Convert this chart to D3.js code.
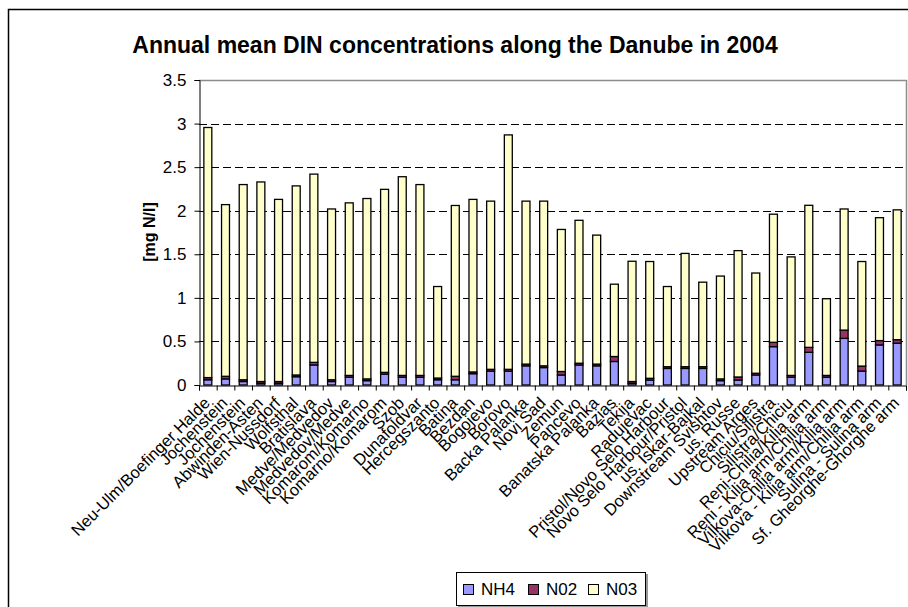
<!DOCTYPE html>
<html>
<head>
<meta charset="utf-8">
<title>Annual mean DIN concentrations along the Danube in 2004</title>
<script src="https://d3js.org/d3.v7.min.js"></script>
<style>
body { margin: 0; background: #fff; }
svg text { font-family: "Liberation Sans", Arial, sans-serif; fill: #000; }
</style>
</head>
<body>
<svg width="908" height="607"></svg>
<script>
// stations along the river, upstream -> downstream
var stations = ["Neu-Ulm/Boefinger Halde", "Jochenstein", "Jochenstein", "Abwinden-Asten",
  "Wien-Nussdorf", "Wolfsthal", "Bratislava", "Medve/Medvedov", "Medvedov/Medve",
  "Komarom/Komarno", "Komarno/Komarom", "Szob", "Dunafoldvar", "Hercegszanto", "Batina",
  "Bezdan", "Bogojevo", "Borovo", "Backa Palanka", "Novi Sad", "Zemun", "Pancevo",
  "Banatska Palanka", "Bazias", "Tekija", "Radujevac", "Pristol/Novo Selo Harbour",
  "Novo Selo Harbour/Pristol", "us. Iskar-Bajkal", "Downstream Svishtov", "us. Russe",
  "Upstream Arges", "Chiciu/Silistra", "Silistra/Chiciu", "Reni-Chilia/Kilia arm",
  "Reni - Kilia arm/Chilia arm", "Vilkova-Chilia arm/Kilia arm", "Vilkova - Kilia arm/Chilia arm",
  "Sulina - Sulina arm", "Sf. Gheorghe-Ghorghe arm"];

var nh4 = [0.06, 0.07, 0.04, 0.02, 0.02, 0.095, 0.23, 0.04, 0.09, 0.05,
  0.125, 0.09, 0.09, 0.06, 0.06, 0.13, 0.16, 0.16, 0.22, 0.20,
  0.115, 0.23, 0.22, 0.27, 0.02, 0.057, 0.19, 0.19, 0.19, 0.05,
  0.057, 0.115, 0.44, 0.09, 0.375, 0.09, 0.535, 0.16, 0.46, 0.48];

var no2 = [0.025, 0.03, 0.02, 0.02, 0.02, 0.02, 0.03, 0.02, 0.02, 0.02,
  0.02, 0.02, 0.02, 0.02, 0.04, 0.02, 0.02, 0.02, 0.02, 0.02,
  0.04, 0.02, 0.02, 0.057, 0.02, 0.02, 0.02, 0.02, 0.02, 0.02,
  0.035, 0.02, 0.05, 0.02, 0.057, 0.02, 0.095, 0.057, 0.05, 0.04];

var no3 = [2.87, 1.97, 2.24, 2.29, 2.09, 2.17, 2.16, 1.96, 1.98, 2.07,
  2.10, 2.28, 2.19, 1.05, 1.96, 1.98, 1.93, 2.69, 1.87, 1.89,
  1.63, 1.64, 1.48, 0.83, 1.38, 1.34, 0.92, 1.30, 0.97, 1.18,
  1.45, 1.15, 1.47, 1.36, 1.63, 0.88, 1.39, 1.20, 1.41, 1.49];

var seriesNames = ["NH4", "N02", "N03"];
var seriesColors = ["#9999ff", "#993366", "#ffffcc"];
var yTicks = [0, 0.5, 1, 1.5, 2, 2.5, 3, 3.5];

var svg = d3.select("svg");

// chart frame (right and bottom run off the picture)
svg.append("rect")
    .attr("x", 8.5).attr("y", 9.5)
    .attr("width", 920).attr("height", 620)
    .attr("fill", "#fff")
    .attr("stroke", "#000")
    .attr("stroke-width", 1.5);

var plotL = 199, plotR = 906, plotT = 80, plotB = 385;

var rows = stations.map(function(s, i) {
  return { i: i, NH4: nh4[i], N02: no2[i], N03: no3[i] };
});

var x = d3.scaleBand()
    .domain(d3.range(stations.length))
    .range([plotL, plotR])
    .paddingInner(0.55)
    .paddingOuter(0.275);

var xb = d3.scaleLinear().domain([0, stations.length]).range([plotL, plotR]);

var y = d3.scaleLinear().domain([0, 3.5]).range([plotB, plotT]);

// gridlines
svg.append("g")
  .selectAll("line")
  .data(yTicks.filter(function(d) { return d > 0 && d < 3.5; }))
  .enter().append("line")
    .attr("x1", plotL).attr("x2", plotR)
    .attr("y1", function(d) { return Math.round(y(d)) + 0.5; })
    .attr("y2", function(d) { return Math.round(y(d)) + 0.5; })
    .attr("stroke", "#000")
    .attr("stroke-dasharray", "8,4");

// plot area border (top and right, grey)
svg.append("path")
    .attr("d", "M" + plotL + "," + (plotT + 0.5) + "H" + (plotR + 0.5) + "V" + plotB)
    .attr("fill", "none")
    .attr("stroke", "#8c8c8c")
    .attr("stroke-width", 1.5);

// stacked bars
var stack = d3.stack().keys(seriesNames);
var layers = stack(rows);

svg.append("g").selectAll("g")
  .data(layers)
  .enter().append("g")
    .attr("fill", function(d, k) { return seriesColors[k]; })
  .selectAll("rect")
  .data(function(d) { return d; })
  .enter().append("rect")
    .attr("x", function(d) { return x(d.data.i); })
    .attr("y", function(d) { return y(d[1]); })
    .attr("width", x.bandwidth())
    .attr("height", function(d) { return y(d[0]) - y(d[1]); })
    .attr("stroke", "#000")
    .attr("stroke-width", 1.3);

// y axis
svg.append("g")
    .attr("transform", "translate(" + (plotL + 0.5) + ",0)")
    .call(d3.axisLeft(y).tickValues(yTicks).tickSize(5).tickFormat(d3.format("")))
    .call(function(g) {
      g.select(".domain").attr("stroke", "#000");
      g.selectAll("text").attr("font-size", "17px").attr("x", -13);
    });

// x axis: ticks between categories
svg.append("g")
    .attr("transform", "translate(0," + (plotB + 0.5) + ")")
    .call(d3.axisBottom(xb).tickValues(d3.range(stations.length + 1)).tickSize(5).tickFormat(""))
    .call(function(g) { g.select(".domain").attr("stroke", "#000"); });

// x labels
svg.append("g").selectAll("text")
  .data(stations)
  .enter().append("text")
    .attr("transform", function(d, i) {
      return "translate(" + (x(i) + x.bandwidth() / 2 - 1) + "," + (plotB + 15) + ") rotate(-45)";
    })
    .attr("text-anchor", "end")
    .attr("dy", "0.35em")
    .attr("font-size", "16.5px")
    .text(function(d) { return d; });

// title
svg.append("text")
    .attr("x", 455).attr("y", 53)
    .attr("text-anchor", "middle")
    .attr("font-size", "23px")
    .attr("font-weight", "bold")
    .text("Annual mean DIN concentrations along the Danube in 2004");

// y label
svg.append("text")
    .attr("transform", "translate(155,232) rotate(-90)")
    .attr("text-anchor", "middle")
    .attr("font-size", "16px")
    .attr("font-weight", "bold")
    .text("[mg N/l]");

// legend
var lg = svg.append("g").attr("transform", "translate(456,572)");
lg.append("rect")
    .attr("x", 2).attr("y", 2).attr("width", 190).attr("height", 34)
    .attr("fill", "#999");
lg.append("rect")
    .attr("x", 0.5).attr("y", 0.5).attr("width", 189).attr("height", 33)
    .attr("fill", "#fff").attr("stroke", "#000");
var legendX = [7, 72, 132];
seriesNames.forEach(function(name, k) {
  lg.append("rect")
      .attr("x", legendX[k] + 0.5).attr("y", 12.5)
      .attr("width", 10).attr("height", 10)
      .attr("fill", seriesColors[k]).attr("stroke", "#000");
  lg.append("text")
      .attr("x", legendX[k] + 18).attr("y", 23)
      .attr("font-size", "17px")
      .text(name);
});
</script>
</body>
</html>
